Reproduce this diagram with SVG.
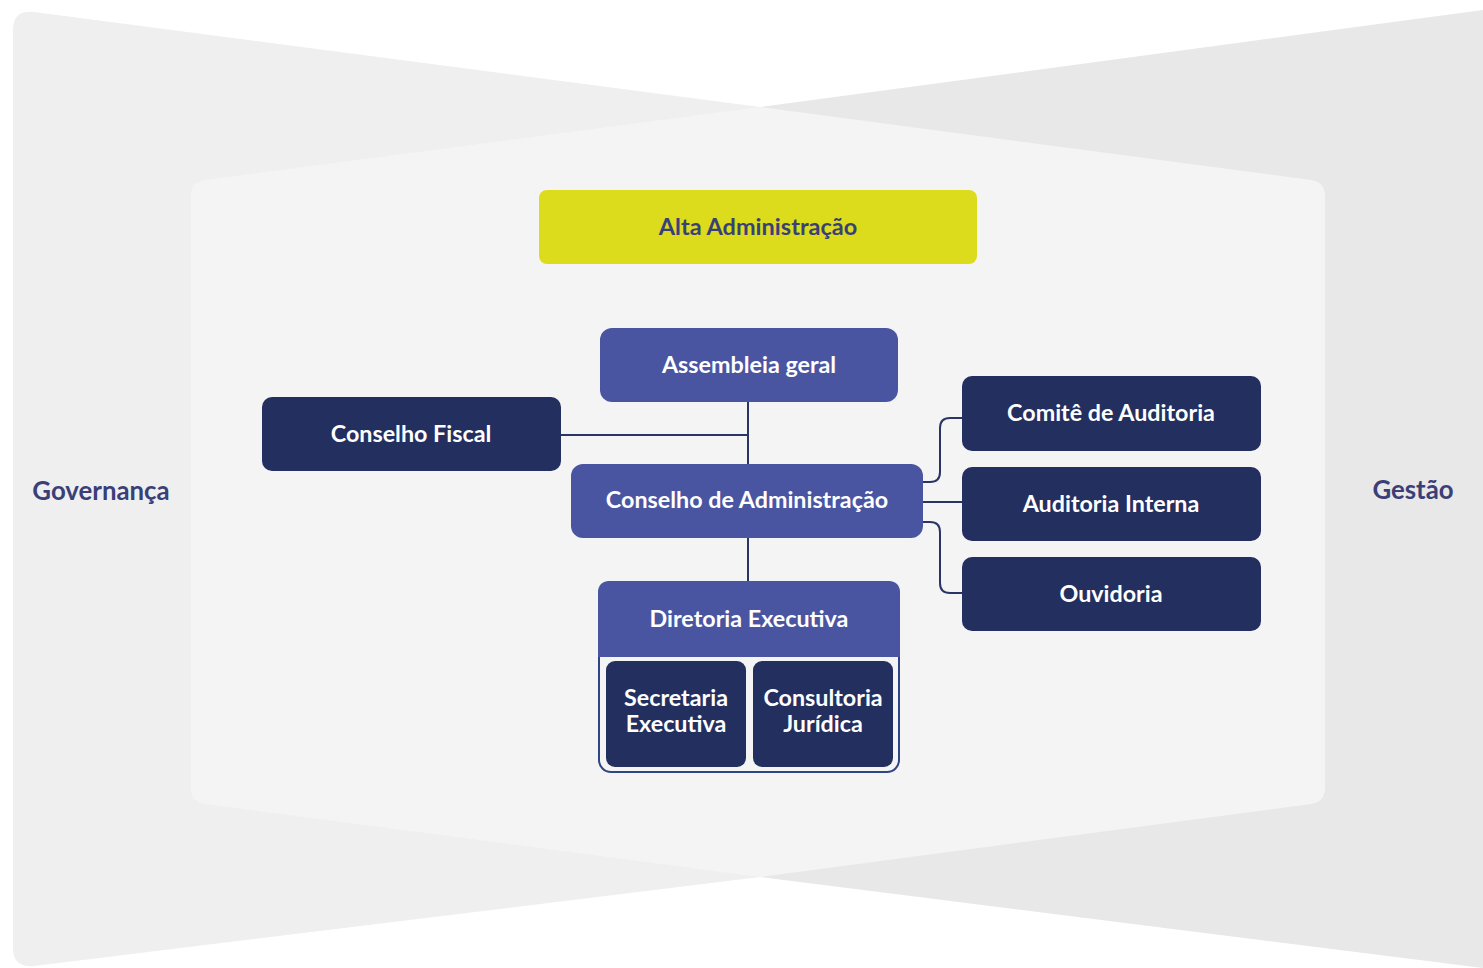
<svg xmlns="http://www.w3.org/2000/svg" width="1483" height="968" viewBox="0 0 1483 968">
<style>
text{font-family:Lato,"Open Sans","Liberation Sans",sans-serif;font-weight:700;text-anchor:middle;dominant-baseline:central}
.w{fill:#ffffff;font-size:23.3px}
.lbl{fill:#3b3f78;font-size:25.8px}
.mid{fill:#4a55a2}
.dark{fill:#232f5f}
.con{fill:none;stroke:#2a3566;stroke-width:2}
</style>
<g id="background">
<path d="M13,30 Q13,9 34,12 L760,107 L760,877 L34,966 Q13,968 13,948 Z" fill="#efefef"/>
<path d="M1483,10 L760,107 L760,877 L1483,968 Z" fill="#e8e8e8"/>
<path d="M191,196 Q191,182 205,180 L760,107 L1311,180 Q1325,182 1325,196 L1325,788 Q1325,802 1311,804 L760,877 L205,804 Q191,802 191,788 Z" fill="#f4f4f4"/>
</g>
<g id="side-labels">
<text class="lbl" x="101" y="490">Governança</text>
<text class="lbl" x="1413" y="489">Gestão</text>
</g>
<g id="connectors">
<path class="con" d="M748,402 V464"/>
<path class="con" d="M748,538 V581"/>
<path class="con" d="M561,435 H748"/>
<path class="con" d="M923,482 H930 Q940,482 940,472 V428 Q940,418 950,418 H962"/>
<path class="con" d="M923,502 H962"/>
<path class="con" d="M923,522 H930 Q940,522 940,532 V583 Q940,593 950,593 H962"/>
</g>
<g id="alta-administracao">
<rect x="539" y="190" width="438" height="74" rx="8" fill="#dcdc1c"/>
<text x="758" y="226" style="fill:#3b3f78;font-size:23.5px">Alta Administração</text>
</g>
<g id="assembleia-geral">
<rect class="mid" x="600" y="328" width="298" height="74" rx="12"/>
<text class="w" x="749" y="364">Assembleia geral</text>
</g>
<g id="conselho-fiscal">
<rect class="dark" x="262" y="397" width="299" height="74" rx="10"/>
<text class="w" x="411" y="433">Conselho Fiscal</text>
</g>
<g id="conselho-administracao">
<rect class="mid" x="571" y="464" width="352" height="74" rx="12"/>
<text class="w" x="747" y="499">Conselho de Administração</text>
</g>
<g id="comite-auditoria">
<rect class="dark" x="962" y="376" width="299" height="75" rx="10"/>
<text class="w" x="1111" y="412">Comitê de Auditoria</text>
</g>
<g id="auditoria-interna">
<rect class="dark" x="962" y="467" width="299" height="74" rx="10"/>
<text class="w" x="1111" y="503">Auditoria Interna</text>
</g>
<g id="ouvidoria">
<rect class="dark" x="962" y="557" width="299" height="74" rx="10"/>
<text class="w" x="1111" y="593">Ouvidoria</text>
</g>
<g id="diretoria-executiva">
<rect x="599" y="582" width="300" height="190" rx="12" fill="#f4f4f4" stroke="#2f4585" stroke-width="2"/>
<path class="mid" d="M598,593 Q598,581 610,581 H888 Q900,581 900,593 V657 H598 Z"/>
<text class="w" x="749" y="618">Diretoria Executiva</text>
</g>
<g id="secretaria-executiva">
<rect class="dark" x="606" y="661" width="140" height="106" rx="9"/>
<text class="w" x="676" y="697">Secretaria</text>
<text class="w" x="676" y="723">Executiva</text>
</g>
<g id="consultoria-juridica">
<rect class="dark" x="753" y="661" width="140" height="106" rx="9"/>
<text class="w" x="823" y="697">Consultoria</text>
<text class="w" x="823" y="723">Jurídica</text>
</g>
</svg>
